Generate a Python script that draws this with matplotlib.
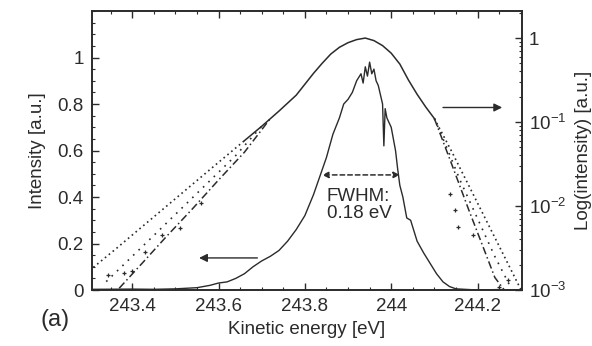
import matplotlib
matplotlib.use('Agg')
import matplotlib.pyplot as plt
from matplotlib.ticker import MultipleLocator, LogLocator, NullFormatter

plt.rcParams['font.family'] = ['Liberation Sans', 'DejaVu Sans']
plt.rcParams['mathtext.fontset'] = 'custom'
plt.rcParams['mathtext.rm'] = 'Liberation Sans'
plt.rcParams['font.size'] = 13.5
ink = '#2b2b2b'

# linear spectrum (left axis)
energy_lin = [243.31, 243.40, 243.45, 243.50, 243.55, 243.58, 243.60, 243.62, 243.64,
              243.66, 243.68, 243.70, 243.72, 243.74, 243.76, 243.78, 243.80, 243.82,
              243.835, 243.85, 243.865, 243.88, 243.89, 243.90, 243.91, 243.92, 243.93,
              243.935, 243.94, 243.945, 243.95, 243.955, 243.96, 243.965, 243.97, 243.975,
              243.98, 243.983, 243.986, 243.99, 244.00, 244.01, 244.015, 244.02, 244.027,
              244.036, 244.045, 244.06, 244.075, 244.09, 244.105, 244.12, 244.135, 244.15,
              244.2, 244.25, 244.30]
intensity_lin = [0.003, 0.004, 0.003, 0.005, 0.01, 0.02, 0.03, 0.035, 0.05,
                 0.07, 0.10, 0.125, 0.145, 0.17, 0.21, 0.26, 0.32, 0.41,
                 0.49, 0.57, 0.67, 0.74, 0.80, 0.82, 0.85, 0.90, 0.93,
                 0.89, 0.96, 0.92, 0.98, 0.93, 0.95, 0.90, 0.88, 0.84,
                 0.80, 0.62, 0.78, 0.74, 0.70, 0.60, 0.52, 0.45, 0.40,
                 0.31, 0.30, 0.21, 0.16, 0.115, 0.07, 0.035, 0.015, 0.005,
                 0.0, 0.002, 0.0]

# log spectrum (right axis), common part
energy_log = [243.66, 243.70, 243.74, 243.78, 243.82, 243.84, 243.86, 243.88, 243.90,
              243.92, 243.94, 243.96, 243.98, 244.00, 244.02, 244.04, 244.06, 244.08,
              244.10]
intensity_log = [0.060, 0.089, 0.135, 0.209, 0.38, 0.50, 0.645, 0.776, 0.881,
                 0.959, 1.0, 0.933, 0.813, 0.661, 0.49, 0.316, 0.214, 0.151,
                 0.110]

# tails, low energy side
tail_l_dot_e = [243.31, 243.36, 243.42, 243.48, 243.54, 243.60, 243.66]
tail_l_dot_i = [0.00186, 0.00302, 0.0055, 0.010, 0.0182, 0.0331, 0.060]
tail_l_dot2_e = [243.34, 243.40, 243.46, 243.52, 243.58, 243.64, 243.70]
tail_l_dot2_i = [0.00126, 0.00251, 0.0050, 0.010, 0.020, 0.040, 0.089]
tail_l_dd_e = [243.37, 243.42, 243.48, 243.54, 243.60, 243.66, 243.72]
tail_l_dd_i = [0.00105, 0.0020, 0.00437, 0.0093, 0.0204, 0.0437, 0.110]
tail_l_pts_e = [243.345, 243.38, 243.40, 243.43, 243.47, 243.51, 243.56]
tail_l_pts_i = [0.0015, 0.0016, 0.0017, 0.0028, 0.0045, 0.0055, 0.011]

# tails, high energy side
tail_r_dot_e = [244.10, 244.14, 244.18, 244.22, 244.26, 244.30]
tail_r_dot_i = [0.110, 0.0447, 0.0174, 0.00676, 0.00263, 0.00102]
tail_r_dot2_e = [244.10, 244.13, 244.16, 244.20, 244.24, 244.28]
tail_r_dot2_i = [0.110, 0.0479, 0.020, 0.00708, 0.00251, 0.0010]
tail_r_dd_e = [244.10, 244.14, 244.18, 244.21, 244.24, 244.262]
tail_r_dd_i = [0.110, 0.0316, 0.0089, 0.00355, 0.00141, 0.0010]
tail_r_pts_e = [244.136, 244.148, 244.155, 244.19, 244.25, 244.27]
tail_r_pts_i = [0.0141, 0.0089, 0.0056, 0.0045, 0.0011, 0.0013]

xticks = [243.4, 243.6, 243.8, 244.0, 244.2]
xticklabels = ['243.4', '243.6', '243.8', '244', '244.2']
yticks = [0, 0.2, 0.4, 0.6, 0.8, 1.0]
yticklabels = ['0', '0.2', '0.4', '0.6', '0.8', '1']
logticks = [1e-3, 1e-2, 1e-1, 1]
logticklabels = ['10$^{-3}$', '10$^{-2}$', '10$^{-1}$', '1']

fig = plt.figure(figsize=(5.92, 3.46), dpi=100)
ax = fig.add_axes([0.1554, 0.1618, 0.7264, 0.8064])
ax2 = ax.twinx()

ax.plot(energy_lin, intensity_lin, color=ink, lw=1.0)
ax.set_xlim(243.307, 244.303)
ax.set_ylim(0, 1.2)

ax2.set_yscale('log')
ax2.set_ylim(1e-3, 2.1)
ax2.plot(energy_log, intensity_log, color=ink, lw=1.1)
for e, i in [(tail_l_dot_e, tail_l_dot_i), (tail_r_dot_e, tail_r_dot_i)]:
    ax2.plot(e, i, color=ink, lw=1.2, linestyle=(0, (1, 2)))
for e, i in [(tail_l_dot2_e, tail_l_dot2_i), (tail_r_dot2_e, tail_r_dot2_i)]:
    ax2.plot(e, i, color=ink, lw=1.2, linestyle=(0, (1, 3.5)))
for e, i in [(tail_l_dd_e, tail_l_dd_i), (tail_r_dd_e, tail_r_dd_i)]:
    ax2.plot(e, i, color=ink, lw=1.1, linestyle=(0, (5, 2, 1, 2)))
for e, i in [(tail_l_pts_e, tail_l_pts_i), (tail_r_pts_e, tail_r_pts_i)]:
    ax2.plot(e, i, color=ink, lw=0, marker='+', ms=3.5, mew=0.9)

# FWHM marker
ax.annotate('', xy=(243.84, 0.495), xytext=(244.02, 0.495),
            arrowprops=dict(arrowstyle='<|-|>', color=ink, lw=1.1, linestyle=(0, (3, 2)),
                            mutation_scale=9, shrinkA=0, shrinkB=0))
ax.text(243.851, 0.44, 'FWHM:\n0.18 eV', color=ink, ha='left', va='top', linespacing=1.0)

# axis pointers
ax.annotate('', xy=(243.555, 0.138), xytext=(243.69, 0.138),
            arrowprops=dict(arrowstyle='-|>', color=ink, lw=1.0, mutation_scale=12,
                            shrinkA=0, shrinkB=0))
ax.annotate('', xy=(244.257, 0.785), xytext=(244.12, 0.785),
            arrowprops=dict(arrowstyle='-|>', color=ink, lw=1.0, mutation_scale=12,
                            shrinkA=0, shrinkB=0))

ax.set_xticks(xticks)
ax.set_xticklabels(xticklabels)
ax.set_yticks(yticks)
ax.set_yticklabels(yticklabels)
ax.xaxis.set_minor_locator(MultipleLocator(0.05))
ax.yaxis.set_minor_locator(MultipleLocator(0.05))
ax.tick_params(which='both', direction='in', top=True, colors=ink, labelcolor=ink)
ax.tick_params(which='major', length=5, width=1.0, pad=6)
ax.tick_params(which='minor', length=2.5, width=0.8)

ax2.set_yticks(logticks)
ax2.set_yticklabels(logticklabels)
ax2.yaxis.set_minor_locator(LogLocator(base=10, subs=range(2, 10)))
ax2.yaxis.set_minor_formatter(NullFormatter())
ax2.tick_params(which='both', direction='in', colors=ink, labelcolor=ink)
ax2.tick_params(which='major', length=5, width=1.0, pad=5)
ax2.tick_params(which='minor', length=2.5, width=0.8)

for a in (ax, ax2):
    for s in a.spines.values():
        s.set_color(ink)
        s.set_linewidth(1.2)

ax.set_xlabel('Kinetic energy [eV]', color=ink, labelpad=4)
ax.set_ylabel('Intensity [a.u.]', color=ink, labelpad=8)
ax2.set_ylabel('Log(intensity) [a.u.]', color=ink, labelpad=6)
fig.text(0.068, 0.075, '(a)', color=ink, fontsize=17, va='center', ha='left')

fig.savefig('out.png', dpi=100)
